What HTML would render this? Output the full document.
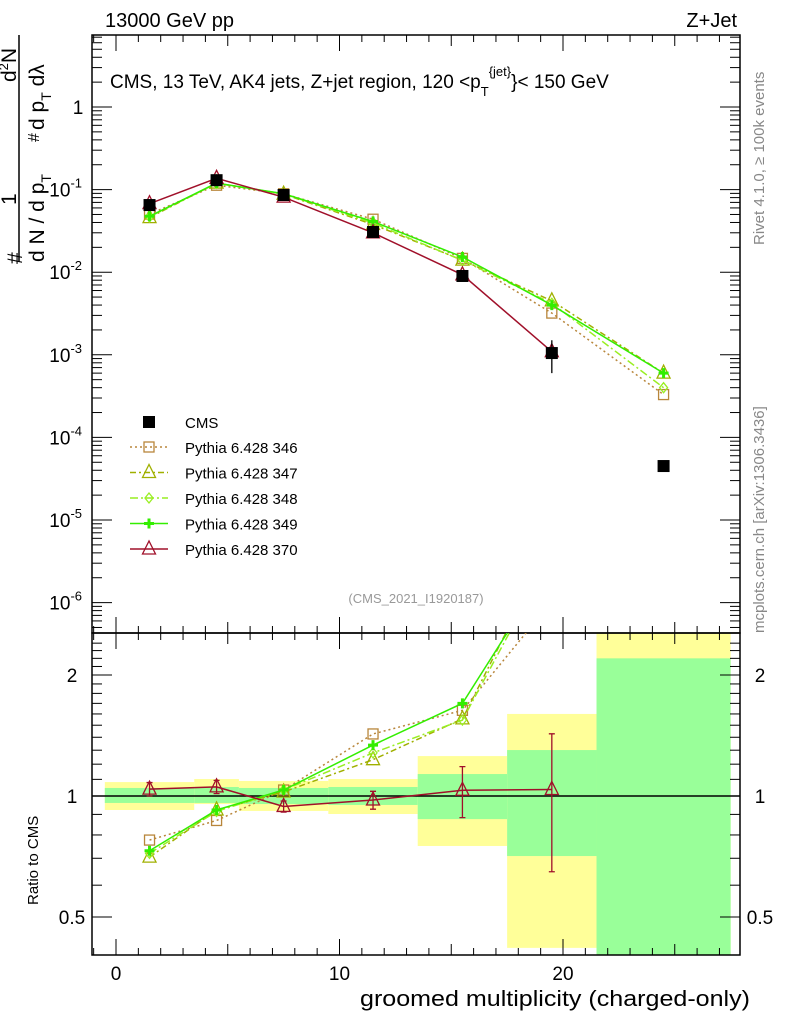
<!DOCTYPE html>
<html><head><meta charset="utf-8"><style>
body{margin:0;background:#fff;}
svg{font-family:"Liberation Sans",sans-serif;}
</style></head><body>
<svg id="c" width="786" height="1024" xmlns="http://www.w3.org/2000/svg">
<defs>
<clipPath id="cm"><rect x="92" y="35" width="648" height="598"/></clipPath>
<clipPath id="cr"><rect x="92" y="633" width="648" height="322"/></clipPath>
</defs>
<g id="bands" clip-path="url(#cr)"></g>
<g id="plot"></g>
<text x="105" y="27" font-size="20">13000 GeV pp</text>
<text x="737" y="27" font-size="20" text-anchor="end">Z+Jet</text>
<text x="110" y="88" font-size="19">CMS, 13 TeV, AK4 jets, Z+jet region, 120 &lt;p<tspan font-size="13" dy="8">T</tspan><tspan font-size="13" dy="-20">{jet}</tspan><tspan dy="12">}&lt; 150 GeV</tspan></text>
<text x="416" y="603" font-size="13" fill="#999" text-anchor="middle">(CMS_2021_I1920187)</text>
<text transform="translate(764,245) rotate(-90)" font-size="15" fill="#888">Rivet 4.1.0, ≥ 100k events</text>
<text transform="translate(764,633) rotate(-90)" font-size="15" fill="#888">mcplots.cern.ch [arXiv:1306.3436]</text>
<g font-size="21">
<text transform="translate(22,264) rotate(-90)">#</text>
<text transform="translate(16,205) rotate(-90)">1</text>
<line x1="19" y1="262" x2="19" y2="35" stroke="#000" stroke-width="1.5"/>
<text transform="translate(44,262) rotate(-90)">d N / d p<tspan font-size="14" dy="7">T</tspan></text>
<text transform="translate(39,142) rotate(-90)" font-size="16">#</text>
<text transform="translate(16,82) rotate(-90)">d<tspan font-size="13" dy="-8">2</tspan><tspan dy="8">N</tspan></text>
<text transform="translate(44,130) rotate(-90)">d p<tspan font-size="14" dy="7">T</tspan><tspan dy="-7"> dλ</tspan></text>
</g>
<text transform="translate(38,905) rotate(-90)" font-size="15">Ratio to CMS</text>
<text x="360" y="1006" font-size="22" textLength="390" lengthAdjust="spacingAndGlyphs">groomed multiplicity (charged-only)</text>
</svg>
<script>
const xs=[1.5,4.5,7.5,11.5,15.5,19.5,24.5];
const cmsV=[0.065,0.13,0.086,0.0307,0.009,0.00105,0.000045];
const cmsErr=[0.004,0.008,0.005,0.002,0.0006,0.00045,0.000005];
const s346=[0.0505,0.113,0.089,0.0438,0.0147,0.0032,0.00033];
const s347=[0.0458,0.12,0.088,0.0378,0.0140,0.0045,0.0006];
const s348=[0.0468,0.119,0.089,0.0393,0.0139,0.0042,0.0004];
const s349=[0.0475,0.12,0.089,0.0411,0.0153,0.0040,0.0006];
const s370=[0.0676,0.137,0.081,0.030,0.0093,0.00109,null];
const binEdges=[-0.5,3.5,5.5,9.5,13.5,17.5,21.5,27.5];
const yelLo=[0.923,0.955,0.918,0.902,0.751,0.419,0.3];
const yelHi=[1.083,1.102,1.090,1.102,1.257,1.60,3.0];
const grnLo=[0.961,0.961,0.955,0.950,0.876,0.709,0.3];
const grnHi=[1.047,1.053,1.047,1.053,1.134,1.301,2.20];
const ratioErr370=[0.04,0.04,0.03,0.05,0.15,0.39,0];
const xTicks=[0,10,20];
const yMainTicks=[0,-1,-2,-3,-4,-5,-6];
const yRatioTicks=[0.5,1,2];

const NS="http://www.w3.org/2000/svg";
const plot=document.getElementById('plot');
const bands=document.getElementById('bands');
const X=v=>116+22.35*v;
const YM=v=>107-82.6*Math.log10(v);
const YR=v=>796-402*Math.log10(v);
function mk(tag,at,parent){const e=document.createElementNS(NS,tag);for(const k in at)e.setAttribute(k,at[k]);(parent||plot).appendChild(e);return e;}

for(let i=0;i<binEdges.length-1;i++){
  const x1=X(binEdges[i]),x2=X(binEdges[i+1]);
  const y=mk('rect',{x:x1,y:YR(yelHi[i]),width:x2-x1,height:YR(yelLo[i])-YR(yelHi[i]),fill:'#ffff99'},bands);
  
  
  const g=mk('rect',{x:x1,y:YR(grnHi[i]),width:x2-x1,height:YR(grnLo[i])-YR(grnHi[i]),fill:'#99ff99'},bands);
  
  
}
const one=mk('line',{x1:92,x2:740,y1:YR(1),y2:YR(1),stroke:'#000','stroke-width':1.5});



for(const [y1,y2] of [[35,633],[633,955]]){
  const f=mk('rect',{x:92,y:y1,width:648,height:y2-y1,fill:'none',stroke:'#000','stroke-width':1.5});
  
  
  for(let v=-1;v<=27;v++){const L=(v%10===0)?16:(v%5===0?11:7);
    mk('line',{x1:X(v),x2:X(v),y1:y2,y2:y2-L,stroke:'#000'});
    mk('line',{x1:X(v),x2:X(v),y1:y1,y2:y1+L,stroke:'#000'});}
}
xTicks.forEach(v=>{const t=mk('text',{x:X(v),y:980,'font-size':19,'text-anchor':'middle'});t.textContent=v;
 
 });
for(let d=-7;d<=1;d++){for(let m=1;m<10;m++){const y=YM(m*Math.pow(10,d));if(y<35||y>633)continue;const L=m===1?20:10;
 mk('line',{x1:92,x2:92+L,y1:y,y2:y,stroke:'#000'});mk('line',{x1:740,x2:740-L,y1:y,y2:y,stroke:'#000'});}}
yMainTicks.forEach(d=>{const y=YM(Math.pow(10,d));const t=mk('text',{x:d===0?78:82,y:y+7,'font-size':19,'text-anchor':d===0?'middle':'end'});
 if(d===0)t.textContent='1';else{t.textContent='10';const s=document.createElementNS(NS,'tspan');s.setAttribute('dy','-9');s.setAttribute('font-size','13');s.textContent=d;t.appendChild(s);}
 
 });
for(let v=0.4;v<=2.5;v+=0.1){const y=YR(v);if(y<633||y>955)continue;const maj=yRatioTicks.some(t=>Math.abs(t-v)<1e-6);const L=maj?20:10;
 mk('line',{x1:92,x2:92+L,y1:y,y2:y,stroke:'#000'});mk('line',{x1:740,x2:740-L,y1:y,y2:y,stroke:'#000'});}
yRatioTicks.forEach(v=>{[72,760].forEach(x=>{const t=mk('text',{x:x,y:YR(v)+7,'font-size':19,'text-anchor':'middle'});t.textContent=v;
 
 });});

function marker(kind,x,y,col,g){
 if(kind==='sq')mk('rect',{x:x-5,y:y-5,width:10,height:10,fill:'none',stroke:col,'stroke-width':1.3},g);
 else if(kind==='tri')mk('polygon',{points:`${x},${y-8} ${x-6.5},${y+5} ${x+6.5},${y+5}`,fill:'none',stroke:col,'stroke-width':1.3},g);
 else if(kind==='dia')mk('polygon',{points:`${x},${y-5} ${x-4},${y} ${x},${y+5} ${x+4},${y}`,fill:'none',stroke:col,'stroke-width':1.3},g);
 else if(kind==='cross')mk('path',{d:`M${x-5} ${y}H${x+5}M${x} ${y-5}V${y+5}`,stroke:col,'stroke-width':3},g);
}
const series=[
 {name:'Pythia 6.428 346',v:s346,col:'#b8863b',dash:'2,3',m:'sq'},
 {name:'Pythia 6.428 347',v:s347,col:'#a0b000',dash:'6,3,2,3',m:'tri'},
 {name:'Pythia 6.428 348',v:s348,col:'#99ee22',dash:'8,3,2,3',m:'dia'},
 {name:'Pythia 6.428 349',v:s349,col:'#33ee00',dash:'',m:'cross'},
 {name:'Pythia 6.428 370',v:s370,col:'#a0102a',dash:'',m:'tri'}];
const gm=mk('g',{'clip-path':'url(#cm)'});
const gr=mk('g',{'clip-path':'url(#cr)'});
series.forEach((s,k)=>{
 const pm=[],pr=[];
 xs.forEach((x,i)=>{if(s.v[i]==null)return;pm.push([X(x),YM(s.v[i])]);pr.push([X(x),YR(s.v[i]/cmsV[i])]);});
 const l=mk('polyline',{points:pm.map(p=>p.join(',')).join(' '),fill:'none',stroke:s.col,'stroke-width':1.5,'stroke-dasharray':s.dash},gm);
 
 
 const r=mk('polyline',{points:pr.map(p=>p.join(',')).join(' '),fill:'none',stroke:s.col,'stroke-width':1.5,'stroke-dasharray':s.dash},gr);
 
 
 pm.forEach(p=>marker(s.m,p[0],p[1],s.col,gm));
 pr.forEach(p=>marker(s.m,p[0],p[1],s.col,gr));
 const ly=447+k*25.5;
 mk('line',{x1:130,x2:168,y1:ly,y2:ly,stroke:s.col,'stroke-width':1.5,'stroke-dasharray':s.dash});
 marker(s.m,149,ly,s.col);
 const t=mk('text',{x:185,y:ly+6,'font-size':15});t.textContent=s.name;
 
 
});
xs.forEach((x,i)=>{if(s370[i]==null||!ratioErr370[i])return;const r=s370[i]/cmsV[i];
 mk('path',{d:`M${X(x)} ${YR(r+ratioErr370[i])}V${YR(Math.max(r-ratioErr370[i],0.45))}M${X(x)-3} ${YR(r+ratioErr370[i])}h6M${X(x)-3} ${YR(Math.max(r-ratioErr370[i],0.45))}h6`,stroke:'#a0102a','stroke-width':1.3},gr);});
xs.forEach((x,i)=>{const y=YM(cmsV[i]);
 mk('path',{d:`M${X(x)} ${YM(cmsV[i]+cmsErr[i])}V${YM(cmsV[i]-cmsErr[i])}`,stroke:'#000','stroke-width':1.3},gm);
 const r=mk('rect',{x:X(x)-6,y:y-6,width:12,height:12,fill:'#000'},gm);
 
 });
mk('rect',{x:143,y:416,width:12,height:12,fill:'#000'});
const lt=mk('text',{x:185,y:428,'font-size':15});lt.textContent='CMS';


</script>
</body></html>
